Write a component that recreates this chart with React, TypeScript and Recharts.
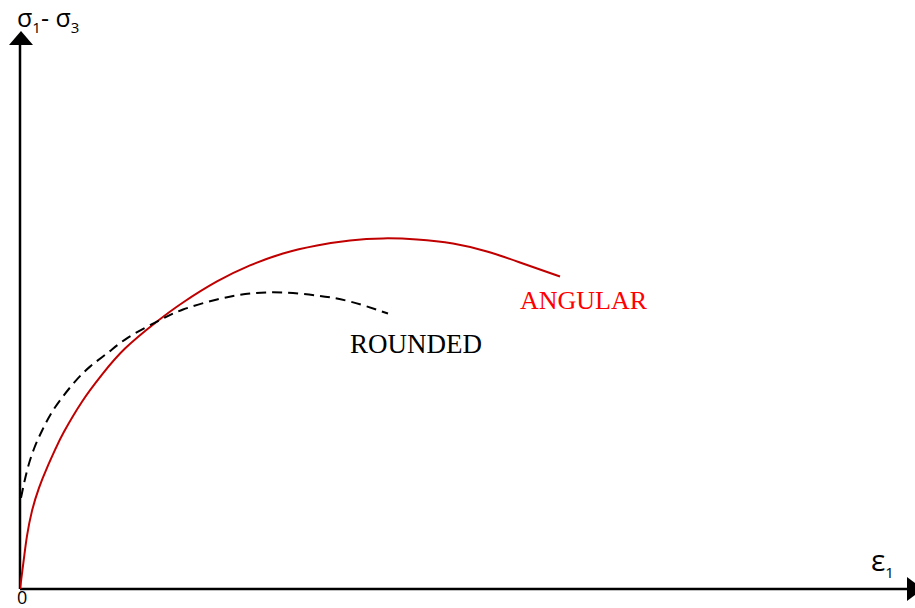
import React from "react";
import { LineChart, Line, XAxis, YAxis, ReferenceLine, ReferenceDot } from "recharts";

// strain (e1) and deviator stress (s1 - s3), arbitrary units
const angularStrain = [0, 4, 7, 12, 19, 27, 36, 44, 62, 82, 105, 137, 163, 197, 230, 263, 297, 330, 363, 397, 433, 467, 500, 540];
const angularStress = [0, 31, 53, 78, 101, 121, 141, 157, 187, 214, 240, 267, 286, 307, 323, 335, 343, 348, 350, 349, 345, 337, 326, 312];

const roundedStrain = [1, 7, 14, 22, 31, 42, 55, 70, 88, 108, 137, 163, 197, 230, 263, 297, 330, 368];
const roundedStress = [91, 118, 140, 158, 175, 191, 207, 222, 236, 251, 267, 279, 289, 295, 296, 293, 287, 275];

const angular = angularStrain.map((x, i) => ({ x, y: angularStress[i] }));
const rounded = roundedStrain.map((x, i) => ({ x, y: roundedStress[i] }));

const xMax = 895;
const yMax = 588;

const axisStroke = "#000";

const TextMark = ({ cx, cy, text, color, size, family }: any) => (
  <text x={cx} y={cy} fill={color} fontSize={size} fontFamily={family}>
    {text}
  </text>
);

export default function App() {
  return (
    <div style={{ position: "absolute", left: 0, top: 0, background: "#fff" }}>
      <LineChart
        width={915}
        height={608}
        margin={{ top: 0, right: 0, bottom: 19, left: 20 }}
      >
        <XAxis type="number" dataKey="x" domain={[0, xMax]} hide allowDataOverflow />
        <YAxis type="number" dataKey="y" domain={[0, yMax]} hide allowDataOverflow />

        {/* axes with arrow heads */}
        <ReferenceLine segment={[{ x: 0, y: 0 }, { x: 0, y: 545 }]} stroke={axisStroke} strokeWidth={2.5} ifOverflow="visible" />
        <ReferenceLine segment={[{ x: 0, y: 0 }, { x: 888, y: 0 }]} stroke={axisStroke} strokeWidth={2.5} ifOverflow="visible" />
        <ReferenceDot
          x={1}
          y={557}
          r={0}
          ifOverflow="visible"
          shape={(p: any) => (
            <polygon
              points={`${p.cx - 12},${p.cy + 14} ${p.cx + 12},${p.cy + 14} ${p.cx},${p.cy}`}
              fill="#000"
            />
          )}
        />
        <ReferenceDot
          x={896}
          y={0}
          r={0}
          ifOverflow="visible"
          shape={(p: any) => (
            <polygon
              points={`${p.cx - 9},${p.cy - 12} ${p.cx - 9},${p.cy + 12} ${p.cx + 7},${p.cy}`}
              fill="#000"
            />
          )}
        />

        <Line
          data={angular}
          dataKey="y"
          type="natural"
          stroke="#c00000"
          strokeWidth={2}
          dot={false}
          isAnimationActive={false}
        />
        <Line
          data={rounded}
          dataKey="y"
          type="natural"
          stroke="#000"
          strokeWidth={2}
          strokeDasharray="10 6"
          dot={false}
          isAnimationActive={false}
        />

        <ReferenceDot
          x={500}
          y={280}
          r={0}
          ifOverflow="visible"
          shape={(p: any) => (
            <TextMark {...p} text="ANGULAR" color="#ff0000" size={26} family="'Liberation Serif', serif" />
          )}
        />
        <ReferenceDot
          x={330}
          y={236}
          r={0}
          ifOverflow="visible"
          shape={(p: any) => (
            <TextMark {...p} text="ROUNDED" color="#000" size={27} family="'Liberation Serif', serif" />
          )}
        />
        <ReferenceDot
          x={-3}
          y={561}
          r={0}
          ifOverflow="visible"
          shape={(p: any) => (
            <text x={p.cx} y={p.cy} fontSize={25} fontFamily="'Open Sans', sans-serif" fill="#000">
              σ<tspan fontSize={15} dy={6}>1</tspan>
              <tspan dy={-6}>- σ</tspan>
              <tspan fontSize={15} dy={6}>3</tspan>
            </text>
          )}
        />
        <ReferenceDot
          x={851}
          y={18}
          r={0}
          ifOverflow="visible"
          shape={(p: any) => (
            <text x={p.cx} y={p.cy} fontSize={30} fontFamily="'Open Sans', sans-serif" fill="#000">
              ε<tspan fontSize={15} dy={7}>1</tspan>
            </text>
          )}
        />
        <ReferenceDot
          x={-3}
          y={-15}
          r={0}
          ifOverflow="visible"
          shape={(p: any) => (
            <text x={p.cx} y={p.cy} fontSize={18} fontFamily="'Open Sans', sans-serif" fill="#000">
              0
            </text>
          )}
        />
      </LineChart>
    </div>
  );
}
